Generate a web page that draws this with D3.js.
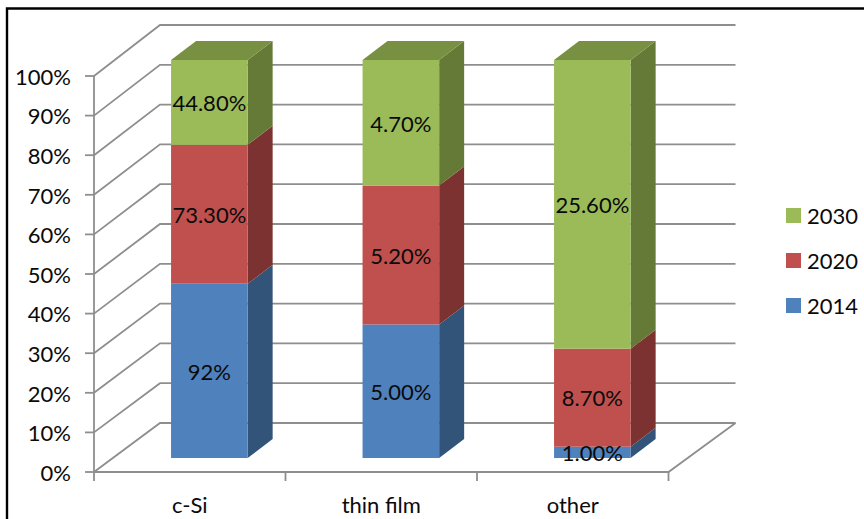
<!DOCTYPE html>
<html>
<head>
<meta charset="utf-8">
<script src="https://cdnjs.cloudflare.com/ajax/libs/d3/7.8.5/d3.min.js"></script>
<style>
html,body{margin:0;padding:0;background:#fff}
svg{display:block}
text{font-family:Lato,"Open Sans",sans-serif;fill:#0a0a0a}
</style>
</head>
<body>
<svg id="chart" width="864" height="519"></svg>
<script>
// Technology shares by year, drawn as a 100% stacked column chart with a 3D look
const categories = ["c-Si", "thin film", "other"];
const seriesNames = ["2014", "2020", "2030"];
const values2014 = [92, 5.0, 1.0];
const values2020 = [73.3, 5.2, 8.7];
const values2030 = [44.8, 4.7, 25.6];
const labels2014 = ["92%", "5.00%", "1.00%"];
const labels2020 = ["73.30%", "5.20%", "8.70%"];
const labels2030 = ["44.80%", "4.70%", "25.60%"];
const axisTicks = [0, .1, .2, .3, .4, .5, .6, .7, .8, .9, 1];

const frontFill = {"2014": "#4f81bd", "2020": "#c0504d", "2030": "#9bbb59"};
const sideFill  = {"2014": "#335479", "2020": "#7c3230", "2030": "#667a37"};
const topFill   = {"2030": "#779041"};
const gridColor = "#8e8e8e";
const fontSize = 22;
const baseline = "0.4em";

const svg = d3.select("#chart");

const rows = categories.map((c, i) => ({
  category: c,
  "2014": values2014[i], "2020": values2020[i], "2030": values2030[i]
}));
const labelText = {"2014": labels2014, "2020": labels2020, "2030": labels2030};
const stacked = d3.stack().keys(seriesNames).offset(d3.stackOffsetExpand)(rows);

// Three depth planes: front of the box, the columns' front faces, and the back wall
const y = d3.scaleLinear().domain([0, 1]).range([472, 76]);
const yBar = d3.scaleLinear().domain([0, 1]).range([458, 60]);
const yBack = d3.scaleLinear().domain([0, 1]).range([423, 25]);
const x = d3.scaleBand().domain(categories).range([94, 668.5]).paddingInner(0.6).paddingOuter(0.3);
const xBack = d3.scaleLinear().domain([0, 1]).range([160, 735.5]);
const step = x.step();

const barShift = 19.6;
const depth = {dx: 25, dy: -19};

// Outer frame
svg.append("path").attr("d", "M7,519V8.5H864").attr("fill", "none")
  .attr("stroke", "#000").attr("stroke-width", 2.4);

// Back wall and side wall gridlines
const grid = svg.append("g").attr("fill", "none").attr("stroke", gridColor).attr("stroke-width", 1.8);
grid.selectAll("path.wall").data(axisTicks).join("path").attr("class", "wall")
  .attr("d", t => d3.line()([
    [x.range()[0], y(t)],
    [xBack(0), yBack(t)],
    [xBack(1), yBack(t)]
  ]));
// Floor edges
grid.append("path").attr("d", d3.line()([
  [x.range()[0], y(0)],
  [x.range()[1], y(0)],
  [xBack(1), yBack(0)]
]));

// Value axis with tick marks
grid.append("line").attr("x1", 94).attr("x2", 94).attr("y1", y(1)).attr("y2", y(0));
grid.selectAll("line.ytick").data(axisTicks).join("line").attr("class", "ytick")
  .attr("x1", 85).attr("x2", 94).attr("y1", t => y(t)).attr("y2", t => y(t));

// Category tick marks
grid.selectAll("line.xtick").data(d3.range(categories.length + 1)).join("line").attr("class", "xtick")
  .attr("x1", i => 94 + i * step).attr("x2", i => 94 + i * step)
  .attr("y1", y(0)).attr("y2", 481);

// Columns: side faces, the top cap, then front faces
const bars = svg.append("g");
stacked.forEach(series => {
  const key = series.key;
  series.forEach((d, i) => {
    const left = x(categories[i]) + barShift;
    const right = left + x.bandwidth();
    const top = yBar(d[1]);
    const bottom = yBar(d[0]);
    bars.append("path").attr("fill", sideFill[key])
      .attr("d", d3.line()([
        [right, top], [right + depth.dx, top + depth.dy],
        [right + depth.dx, bottom + depth.dy], [right, bottom]
      ]) + "Z");
    if (key === "2030") {
      bars.append("path").attr("fill", topFill[key])
        .attr("d", d3.line()([
          [left, top], [left + depth.dx, top + depth.dy],
          [right + depth.dx, top + depth.dy], [right, top]
        ]) + "Z");
    }
    bars.append("rect").attr("fill", frontFill[key])
      .attr("x", left).attr("width", x.bandwidth())
      .attr("y", top).attr("height", bottom - top);
  });
});

// Value labels centred on the front faces
stacked.forEach(series => {
  series.forEach((d, i) => {
    svg.append("text")
      .attr("x", x(categories[i]) + barShift + x.bandwidth() / 2)
      .attr("y", (yBar(d[0]) + yBar(d[1])) / 2)
      .attr("dy", baseline).attr("text-anchor", "middle")
      .attr("font-size", fontSize).text(labelText[series.key][i]);
  });
});

// Axis labels
svg.selectAll("text.ylab").data(axisTicks).join("text").attr("class", "ylab")
  .attr("x", 71).attr("y", t => y(t)).attr("dy", baseline).attr("text-anchor", "end")
  .attr("font-size", fontSize).text(d3.format(".0%"));
svg.selectAll("text.xlab").data(categories).join("text").attr("class", "xlab")
  .attr("x", c => x(c) + x.bandwidth() / 2).attr("y", 504).attr("dy", baseline)
  .attr("text-anchor", "middle").attr("font-size", fontSize).text(c => c);

// Legend, newest year first
const legend = svg.selectAll("g.legend").data(seriesNames.slice().reverse()).join("g")
  .attr("class", "legend").attr("transform", (d, i) => `translate(786,${215.5 + i * 45})`);
legend.append("rect").attr("x", 0).attr("y", -7.5).attr("width", 15).attr("height", 15)
  .attr("fill", d => frontFill[d]);
legend.append("text").attr("x", 21).attr("y", 0).attr("dy", baseline)
  .attr("font-size", fontSize).text(d => d);
</script>
</body>
</html>
